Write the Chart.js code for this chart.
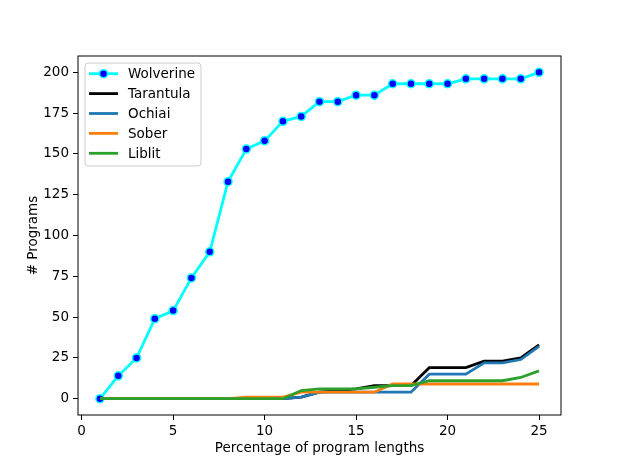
<!DOCTYPE html>
<html>
<head>
<meta charset="utf-8">
<script src="https://cdn.jsdelivr.net/npm/chart.js@4.4.0/dist/chart.umd.min.js"></script>
<style>
  html, body { margin: 0; padding: 0; background: #fff; }
  #wrap { width: 623px; height: 467px; }
</style>
</head>
<body>
<div id="wrap"><canvas id="chart" width="623" height="467"></canvas></div>
<script>
// values
const percentages = [1, 2, 3, 4, 5, 6, 7, 8, 9, 10, 11, 12, 13, 14, 15, 16, 17, 18, 19, 20, 21, 22, 23, 24, 25];
const wolverine = [0, 14, 25, 49, 54, 74, 90, 133, 153, 158, 170, 173, 182, 182, 186, 186, 193, 193, 193, 193, 196, 196, 196, 196, 200];
const tarantula = [0, 0, 0, 0, 0, 0, 0, 0, 0, 0, 0, 1, 4, 5, 6, 8, 8, 8, 19, 19, 19, 23, 23, 25, 33];
const ochiai = [0, 0, 0, 0, 0, 0, 0, 0, 0, 0, 0, 1, 4, 4, 4, 4, 4, 4, 15, 15, 15, 22, 22, 24, 32];
const sober = [0, 0, 0, 0, 0, 0, 0, 0, 1, 1, 1, 4, 4, 4, 4, 4, 9, 9, 9, 9, 9, 9, 9, 9, 9];
const liblit = [0, 0, 0, 0, 0, 0, 0, 0, 0, 0, 0, 5, 6, 6, 6, 7, 8, 8, 11, 11, 11, 11, 11, 13, 17];

const xTicks = [0, 5, 10, 15, 20, 25];
const yTicks = [0, 25, 50, 75, 100, 125, 150, 175, 200];

const FONT = "'DejaVu Sans', sans-serif";

const toPoints = (vals) => vals.map((v, i) => ({ x: percentages[i], y: v }));

function lineSet(label, vals, color, order) {
  return {
    label: label,
    data: toPoints(vals),
    borderColor: color,
    backgroundColor: color,
    borderWidth: 2.8,
    pointRadius: 0,
    pointHoverRadius: 0,
    tension: 0,
    order: order,
  };
}

// box round the plot + matplotlib style legend in the upper left
const framePlugin = {
  id: "frame",
  afterDraw(chart) {
    const { ctx, chartArea: a } = chart;
    ctx.save();
    ctx.strokeStyle = "#000";
    ctx.lineWidth = 1;
    ctx.strokeRect(a.left, a.top, a.right - a.left, a.bottom - a.top);

    // legend box
    const bx = 85, by = 63, bw = 116, bh = 103, r = 3;
    ctx.beginPath();
    ctx.moveTo(bx + r, by);
    ctx.arcTo(bx + bw, by, bx + bw, by + bh, r);
    ctx.arcTo(bx + bw, by + bh, bx, by + bh, r);
    ctx.arcTo(bx, by + bh, bx, by, r);
    ctx.arcTo(bx, by, bx + bw, by, r);
    ctx.closePath();
    ctx.fillStyle = "rgba(255,255,255,0.8)";
    ctx.fill();
    ctx.strokeStyle = "#cccccc";
    ctx.lineWidth = 1;
    ctx.stroke();

    ctx.font = "13.5px " + FONT;
    ctx.textBaseline = "middle";
    ctx.textAlign = "left";
    chart.data.datasets.forEach((ds, i) => {
      const y = 73.7 + i * 19.9;
      ctx.strokeStyle = ds.borderColor;
      ctx.lineWidth = ds.borderWidth;
      ctx.beginPath();
      ctx.moveTo(89, y);
      ctx.lineTo(118, y);
      ctx.stroke();
      if (ds.pointRadius > 0) {
        ctx.beginPath();
        ctx.arc(103.5, y, ds.pointRadius, 0, Math.PI * 2);
        ctx.fillStyle = ds.pointBackgroundColor;
        ctx.fill();
        ctx.lineWidth = ds.pointBorderWidth;
        ctx.strokeStyle = ds.pointBorderColor;
        ctx.stroke();
      }
      ctx.fillStyle = "#000";
      ctx.fillText(ds.label, 128, y + 1);
    });
    ctx.restore();
  },
};

const ctx = document.getElementById("chart").getContext("2d");
new Chart(ctx, {
  type: "line",
  data: {
    datasets: [
      {
        label: "Wolverine",
        data: toPoints(wolverine),
        borderColor: "#00ffff",
        backgroundColor: "#00ffff",
        borderWidth: 2.8,
        pointRadius: 4,
        pointHoverRadius: 4,
        pointBackgroundColor: "#0000ff",
        pointBorderColor: "#00ffff",
        pointBorderWidth: 1.5,
        tension: 0,
        order: 5,
      },
      lineSet("Tarantula", tarantula, "#000000", 4),
      lineSet("Ochiai", ochiai, "#1f77b4", 3),
      lineSet("Sober", sober, "#ff7f0e", 2),
      lineSet("Liblit", liblit, "#2ca02c", 1),
    ],
  },
  options: {
    responsive: false,
    animation: false,
    events: [],
    clip: false,
    layout: { padding: { top: 56, right: 62, left: 0, bottom: 0 } },
    plugins: {
      legend: { display: false },
      tooltip: { enabled: false },
    },
    scales: {
      x: {
        type: "linear",
        min: -0.2,
        max: 26.2,
        afterBuildTicks: (scale) => {
          scale.ticks = xTicks.map((v) => ({ value: v }));
        },
        afterFit: (scale) => {
          scale.height = 52;
        },
        ticks: {
          color: "#000",
          font: { family: FONT, size: 13.5 },
          padding: 3,
          maxRotation: 0,
          autoSkip: false,
        },
        grid: {
          drawOnChartArea: false,
          drawTicks: true,
          tickLength: 5,
          tickColor: "#000",
          tickWidth: 1,
        },
        border: { display: false },
        title: {
          display: true,
          text: "Percentage of program lengths",
          color: "#000",
          font: { family: FONT, size: 13.5 },
          padding: { top: 0, bottom: 10 },
        },
      },
      y: {
        type: "linear",
        min: -10,
        max: 210,
        afterBuildTicks: (scale) => {
          scale.ticks = yTicks.map((v) => ({ value: v }));
        },
        afterFit: (scale) => {
          scale.width = 78;
        },
        ticks: {
          color: "#000",
          font: { family: FONT, size: 13.5 },
          padding: 4,
          autoSkip: false,
        },
        grid: {
          drawOnChartArea: false,
          drawTicks: true,
          tickLength: 5,
          tickColor: "#000",
          tickWidth: 1,
        },
        border: { display: false },
        title: {
          display: true,
          text: "# Programs",
          color: "#000",
          font: { family: FONT, size: 13.5 },
          padding: { top: 25, bottom: 0 },
        },
      },
    },
  },
  plugins: [framePlugin],
});
</script>
</body>
</html>
